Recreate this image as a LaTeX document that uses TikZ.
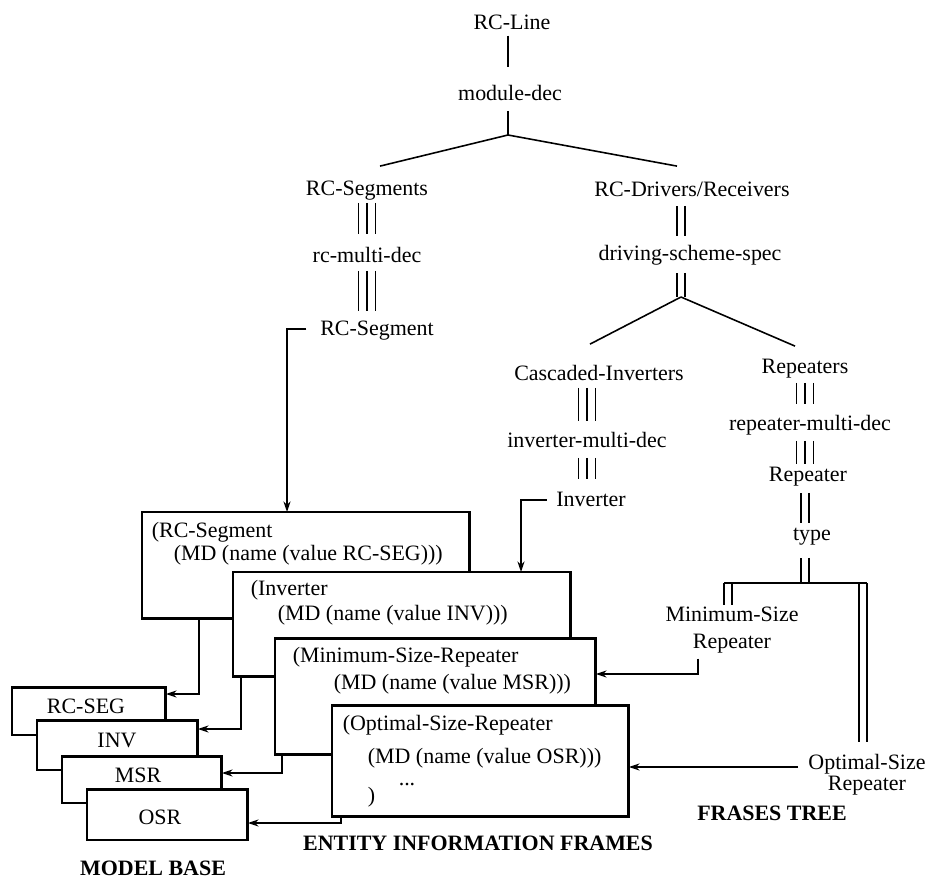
\documentclass[tikz,border=0pt]{standalone}
\usepackage{fontspec}
\setmainfont{Liberation Serif}
\usetikzlibrary{arrows.meta}

\begin{document}
\begin{tikzpicture}[x=0.02cm,y=-0.02cm,>={Stealth[length=6pt,width=4pt]},line width=0.9pt,
                    every node/.style={font=\fontsize{12.5}{15}\selectfont}]
  \tikzstyle{word}=[inner sep=0pt,text height=9.2pt,text depth=2.3pt]
  \tikzstyle{tag}=[word,anchor=west]
  \tikzstyle{frame}=[draw,fill=white,line width=1.7pt,outer sep=0pt,
                     inner sep=0pt,anchor=north west]
  \tikzstyle{title}=[word,font=\fontsize{12.5}{15}\selectfont\bfseries]
  \tikzstyle{dbar}=[double,double distance=3.5pt]

  \useasboundingbox (0,0) rectangle (930,879);

  % frases tree
  \node[word] (line)  at (512,23)  {RC-Line};
  \node[word] (mdec)  at (510,94)  {module-dec};
  \node[word] (segs)  at (367,189) {RC-Segments};
  \node[word] (drv)   at (692,190) {RC-Drivers/Receivers};
  \node[word] (rcmd)  at (367,256) {rc-multi-dec};
  \node[word] (seg)   at (377,329) {RC-Segment};
  \node[word] (dss)   at (690,254) {driving-scheme-spec};
  \node[word] (casc)  at (599,374) {Cascaded-Inverters};
  \node[word] (reps)  at (805,367) {Repeaters};
  \node[word] (invmd) at (587,441) {inverter-multi-dec};
  \node[word] (inv)   at (591,500) {Inverter};
  \node[word] (repmd) at (810,424) {repeater-multi-dec};
  \node[word] (rep)   at (808,475) {Repeater};
  \node[word] (type)  at (812,534) {type};
  \node[inner sep=0pt,align=center] (msr) at (732,630) {Minimum-Size\\Repeater};
  \node[inner sep=0pt,align=center] (osr) at (867,775) {Optimal-Size\\[-3pt]Repeater};

  \coordinate (b1) at (508,135);
  \coordinate (b2) at (681,297);
  \coordinate (b3) at (805,583);
  \coordinate (c1) at (728,583);
  \coordinate (c2) at (863,583);

  % triple bars
  \foreach \s in {-4.8pt,0pt,4.8pt} {
    \draw[transform canvas={xshift=\s},shorten <=1.7pt,shorten >=6.2pt]
          (segs.south) -- (segs.south |- rcmd.north);
    \draw[transform canvas={xshift=\s},shorten <=2.3pt,shorten >=4pt]
          (rcmd.south) -- (rcmd.south |- seg.north);
    \draw[transform canvas={xshift=\s},shorten <=1.7pt,shorten >=5pt]
          (casc.south -| invmd) -- (invmd.north);
    \draw[transform canvas={xshift=\s},shorten <=3.4pt,shorten >=5.7pt]
          (invmd.south) -- (invmd.south |- inv.north);
    \draw[transform canvas={xshift=\s},shorten <=2.8pt,shorten >=5pt]
          (reps.south) -- (reps.south |- repmd.north);
    \draw[transform canvas={xshift=\s},shorten <=3.4pt]
          (repmd.south -| reps) -- (reps |- rep.north);
  }

  % double bars
  \draw
        (drv.south -| b2)  edge [dbar,shorten <=2.8pt,shorten >=4pt] (dss.north -| b2)
        (dss.south -| b2)  edge [dbar,shorten <=4.5pt]               (b2)
        (rep.south -| b3)  edge [dbar,shorten <=4pt]                 (type.north -| b3)
        (type.south -| b3) edge [dbar,shorten <=7.4pt]               (b3)
        (c1)               edge [dbar,shorten >=1pt]                 (c1 |- msr.north)
        (c2)               edge [dbar,shorten >=6.8pt]               (c2 |- osr.north);

  % single lines
  \draw
        (b1 |- line.south) edge [shorten <=1pt,shorten >=9pt] (b1 |- mdec.north)
        (b1 |- mdec.south) edge [shorten <=3.4pt]             (b1)
        (b1) edge [] ([xshift=0.26cm,yshift=0.24cm]segs.north)
        (b1) edge [] ([xshift=-0.3cm,yshift=0.26cm]drv.north)
        (b2) edge [] ([xshift=-0.18cm,yshift=0.38cm]casc.north)
        (b2) edge [] ([xshift=-0.2cm,yshift=0.2cm]reps.north)
        ([xshift=-0.08cm]c1) edge [] ([xshift=0.08cm]c2);

  % entity information frames
  \node[frame,minimum width=6.56cm,minimum height=2.14cm] (f1) at (142,512) {};
  \node[tag] (f1a) at (151,531) {(RC-Segment};
  \node[tag] (f1b) at (173,554) {(MD (name (value RC-SEG)))};
  \node[frame,minimum width=6.76cm,minimum height=2.1cm] (f2) at (233,572) {};
  \node[tag] (f2a) at (250,589) {(Inverter};
  \node[tag] (f2b) at (277,614) {(MD (name (value INV)))};
  \node[frame,minimum width=6.42cm,minimum height=2.34cm] (f3) at (275,638) {};
  \node[tag] (f3a) at (292,656) {(Minimum-Size-Repeater};
  \node[tag] (f3b) at (333,683) {(MD (name (value MSR)))};
  \node[frame,minimum width=5.94cm,minimum height=2.24cm] (f4) at (332,705) {};
  \node[tag] (f4a) at (342,724) {(Optimal-Size-Repeater};
  \node[tag] (f4b) at (367,757) {(MD (name (value OSR)))};
  \node[word] (f4c) at (407,779) {...};
  \node[tag] (f4d) at (367,796) {)};

  % model base
  \node[frame,minimum width=3.08cm,minimum height=0.96cm] (m1) at (12,687) {};
  \node[word] (m1a) at (86,707) {RC-SEG};
  \node[frame,minimum width=3.22cm,minimum height=1cm] (m2) at (37,720) {};
  \node[word] (m2a) at (117,741) {INV};
  \node[frame,minimum width=3.2cm,minimum height=0.94cm] (m3) at (62,756) {};
  \node[word] (m3a) at (138,776) {MSR};
  \node[frame,minimum width=3.22cm,minimum height=1.02cm] (m4) at (87,789) {};
  \node[word] (m4a) at (160,818) {OSR};

  % links
  \coordinate (a1) at (287,329);
  \coordinate (a2) at (521,500);
  \coordinate (a3) at (698,674);
  \coordinate (a4) at (798,767);
  \draw[->,shorten <=7.4pt] (seg.west) -- (a1) -- (a1 |- f1.north);
  \draw[->,shorten <=5pt] (inv.west) -- (a2) -- (a2 |- f2.north);
  \draw[->,shorten <=2.8pt] (a3 |- msr.south) -- (a3) -- (a3 -| f3.east);
  \draw[->] (a4) -- (a4 -| f4.east);

  \coordinate (k1) at (199,694);
  \coordinate (k2) at (241,729);
  \coordinate (k3) at (282,773);
  \coordinate (k4) at (341,823);
  \foreach \i in {1,...,4}
    \draw[->] (k\i |- f\i.south) -- (k\i) -- (k\i -| m\i.east);

  \node[title] (mb)  at (153,869) {MODEL BASE};
  \node[title] (eif) at (478,844) {ENTITY INFORMATION FRAMES};
  \node[title] (ft)  at (772,814) {FRASES TREE};
\end{tikzpicture}
\end{document}
